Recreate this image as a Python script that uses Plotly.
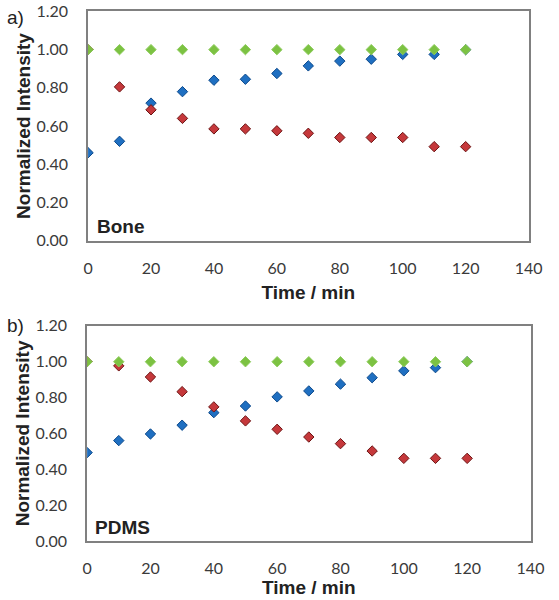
import plotly.graph_objects as go

time = [0, 10, 20, 30, 40, 50, 60, 70, 80, 90, 100, 110, 120]

bone_blue = [0.46, 0.52, 0.72, 0.78, 0.84, 0.845, 0.875, 0.915, 0.94, 0.95, 0.975, 0.975, 1.00]
bone_red = [1.00, 0.805, 0.685, 0.64, 0.585, 0.585, 0.575, 0.562, 0.54, 0.54, 0.54, 0.492, 0.492]
bone_green = [1.00] * 13

pdms_blue = [0.493, 0.56, 0.597, 0.646, 0.716, 0.753, 0.804, 0.837, 0.875, 0.911, 0.949, 0.967, 1.00]
pdms_red = [1.00, 0.977, 0.915, 0.833, 0.748, 0.67, 0.623, 0.58, 0.543, 0.502, 0.461, 0.461, 0.461]
pdms_green = [1.00] * 13

x_ticks = [0, 20, 40, 60, 80, 100, 120, 140]
y_ticks = [0.0, 0.2, 0.4, 0.6, 0.8, 1.0, 1.2]
y_ticktext = ["0.00", "0.20", "0.40", "0.60", "0.80", "1.00", "1.20"]

styles = {
    "blue": dict(color="#1f6fc1", line=dict(color="#0d4a8c", width=1)),
    "red": dict(color="#c5383b", line=dict(color="#6e1414", width=1)),
    "green": dict(color="#7cc242", line=dict(color="#8dcc5c", width=1)),
}

W, H = 559, 612

fig = go.Figure()

panels = [
    ("x", "y", bone_blue, bone_red, bone_green),
    ("x2", "y2", pdms_blue, pdms_red, pdms_green),
]
for xa, ya, b, r, g in panels:
    for name, vals in (("blue", b), ("red", r), ("green", g)):
        fig.add_trace(go.Scatter(
            x=time, y=vals, mode="markers", xaxis=xa, yaxis=ya,
            marker=dict(symbol="diamond", size=8, **styles[name]),
            showlegend=False, hoverinfo="x+y",
        ))

tick_font = dict(family="Lato, Open Sans, sans-serif", size=16, color="#3a3a3a")
bold_family = "Liberation Sans, Arial, sans-serif"
title_font = dict(family=bold_family, size=19, color="#222222")

def xaxis_cfg(domain, anchor, standoff):
    return dict(
        domain=domain, anchor=anchor, range=[0, 140], tickvals=x_ticks,
        showgrid=False, zeroline=False, showline=True, mirror=True,
        linecolor="#808080", linewidth=1.5, ticks="outside", ticklen=12,
        tickcolor="rgba(0,0,0,0)", tickfont=tick_font,
        title=dict(text="<b>Time / min</b>", font=title_font, standoff=standoff),
    )

def yaxis_cfg(domain, anchor):
    return dict(
        domain=domain, anchor=anchor, range=[0, 1.2], tickvals=y_ticks,
        ticktext=y_ticktext,
        showgrid=False, zeroline=False, showline=True, mirror=True,
        linecolor="#808080", linewidth=1.5, ticks="outside", ticklen=15,
        tickcolor="rgba(0,0,0,0)", tickfont=tick_font,
        title=dict(text="<b>Normalized Intensity</b>", font=title_font, standoff=1),
    )

def py(px):
    return 1 - px / H

fig.update_layout(
    width=W, height=H,
    margin=dict(l=0, r=0, t=0, b=0),
    paper_bgcolor="white", plot_bgcolor="white",
    xaxis=xaxis_cfg([86 / W, 542 / W], "y", 10),
    yaxis=yaxis_cfg([py(238), py(1.5)], "x"),
    xaxis2=xaxis_cfg([85 / W, 544 / W], "y2", 5),
    yaxis2=yaxis_cfg([py(548), py(326)], "x2"),
    annotations=[
        dict(text="a)", x=0.0, y=py(8), xref="paper", yref="paper",
             xanchor="left", yanchor="middle", showarrow=False,
             font=dict(family=bold_family, size=19, color="#222222")),
        dict(text="b)", x=0.0, y=py(326), xref="paper", yref="paper",
             xanchor="left", yanchor="middle", showarrow=False,
             font=dict(family=bold_family, size=19, color="#222222")),
        dict(text="<b>Bone</b>", x=2.3, y=0.075, xref="x", yref="y",
             xanchor="left", yanchor="middle", showarrow=False,
             font=dict(family=bold_family, size=19, color="#222222")),
        dict(text="<b>PDMS</b>", x=2.0, y=0.078, xref="x2", yref="y2",
             xanchor="left", yanchor="middle", showarrow=False,
             font=dict(family=bold_family, size=19, color="#222222")),
    ],
)

page_fix = (
    "document.documentElement.style.margin='0';"
    "document.body.style.margin='0';"
    "document.body.style.padding='0';"
    "var d=document.getElementById('{plot_id}');"
    "d.style.position='absolute';d.style.top='0px';d.style.left='0px';"
)

fig.write_html(
    "out.html",
    config={"displayModeBar": False},
    post_script=page_fix,
)
